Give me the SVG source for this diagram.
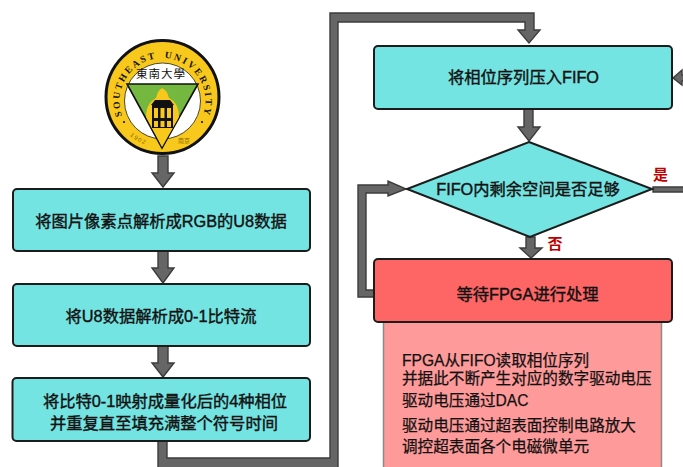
<svg xmlns="http://www.w3.org/2000/svg" width="683" height="467" viewBox="0 0 683 467">
<style>
.box{fill:#74e4e2;stroke:#1c1c1c;stroke-width:2}
.red{fill:#fe6666;stroke:#1c1c1c;stroke-width:2}
.pink{fill:#ff9a9a;stroke:#8a8a8a;stroke-width:1.5}
.arr{fill:#666;stroke:#3c3c3c;stroke-width:1.4;stroke-linejoin:miter}
text{font-family:"Liberation Sans","Noto Sans CJK SC",sans-serif;fill:#111}
.t{font-size:16.3px;text-anchor:middle;stroke:#111;stroke-width:.4}
.p{font-size:15.6px;stroke:#111;stroke-width:.25}
.y{font-size:15px;font-weight:bold;fill:#c00000;text-anchor:middle}
</style>
<rect width="683" height="467" fill="#fff"/>
<g id="connectors">
<polygon class="arr" points="158,156 168,156 168,173 174,173 163,187 152,173 158,173"/>
<polygon class="arr" points="158,251 168,251 168,268 174,268 163,283 152,268 158,268"/>
<polygon class="arr" points="158,346 168,346 168,363 174,363 163,377 152,363 158,363"/>
<polygon class="arr" points="158,441 158,469 338,469 338,22 525,22 525,30 518,30 529,43 540,30 534,30 534,13 330,13 330,458 167,458 167,441"/>
<polygon class="arr" points="524,109 533,109 533,127 540,127 529,141 518,127 524,127"/>
<polygon class="arr" points="526,237 535,237 535,248 542,248 531,258 520,248 526,248"/>
<polygon class="arr" points="374,297 358,297 358,185 388,185 388,181 406,189 388,196 388,193 366,193 366,290 374,290"/>
<polygon class="arr" points="685,75 682,75 682,70 673,78 682,85 682,81 685,81"/>
<polygon class="arr" points="653,187 685,187 685,192 653,192"/>
</g>
<g id="logo">
<circle cx="162.5" cy="97" r="56.5" fill="#f8c91c" stroke="#111" stroke-width="3"/>
<circle cx="162.5" cy="101" r="38" fill="#fff" stroke="#222" stroke-width=".8"/>
<polygon points="127,84 198,84 162,148" fill="#74b83f" stroke="#111" stroke-width="1.6"/>
<path d="M146,117C146,105 152,100 156,98Q158,90 162,88Q167,90 169,98C173,100 179,105 179,117L162,147Z" fill="#f8c91c"/>
<polygon points="151,105 155,100 170,100 174,105" fill="#111"/>
<rect x="152" y="105" width="21" height="23" fill="#111"/>
<g fill="#f8c91c"><rect x="154" y="108" width="4" height="10"/><rect x="160.500" y="108" width="4" height="10"/><rect x="167" y="108" width="4" height="10"/><rect x="154" y="121" width="4" height="6"/><rect x="160.500" y="121" width="4" height="6"/><rect x="167" y="121" width="4" height="6"/></g>
<path id="ring" d="M162.500,144A43,43 0 1 1 162.510,144" fill="none"/>
<text style="font-family:'Liberation Serif',serif;font-size:9.500px;font-weight:bold;letter-spacing:2.100px;word-spacing:3px;text-anchor:middle"><textPath href="#ring" startOffset="50%">SOUTHEAST UNIVERSITY</textPath></text>
<text x="161" y="78" style="font-family:'Noto Sans CJK TC',sans-serif;font-size:11.500px;text-anchor:middle;letter-spacing:1px">東南大學</text>
<circle cx="124" cy="122" r="1.100" fill="#111"/><circle cx="202" cy="122" r="1.100" fill="#111"/>
<path id="ringb" d="M120,124A50,50 0 0 0 205,124" fill="none"/>
<text style="font-size:6px;fill:#8a6a00;letter-spacing:1.300px"><textPath href="#ringb" startOffset="15%">1902</textPath></text>
<text x="184" y="143" style="font-family:'Noto Sans CJK SC',sans-serif;font-size:6px;fill:#8a6a00;text-anchor:middle">南京</text>
</g>
<g id="node-parse-rgb"><rect class="box" x="13" y="189" width="297" height="62" rx="4"/><text class="t" x="161" y="227">将图片像素点解析成RGB的U8数据</text></g>
<g id="node-parse-bits"><rect class="box" x="13" y="284" width="297" height="62" rx="4"/><text class="t" x="161" y="322">将U8数据解析成0-1比特流</text></g>
<g id="node-map-phase"><rect class="box" x="12.500" y="378" width="297.500" height="63" rx="4"/><text class="t" x="165" y="407">将比特0-1映射成量化后的4种相位</text><text class="t" x="164" y="429">并重复直至填充满整个符号时间</text></g>
<g id="node-push-fifo"><rect class="box" x="374" y="46" width="298" height="63" rx="4"/><text class="t" x="523.500" y="83">将相位序列压入FIFO</text></g>
<g id="node-fifo-space"><polygon class="box" points="529,142 652,189 530,237 407,189"/><text class="t" x="528" y="195">FIFO内剩余空间是否足够</text></g>
<g id="node-detail"><rect class="pink" x="383.500" y="322" width="278" height="150"/>
<text class="p" x="402" y="366">FPGA从FIFO读取相位序列</text>
<text class="p" x="402" y="384">并据此不断产生对应的数字驱动电压</text>
<text class="p" x="402" y="406">驱动电压通过DAC</text>
<text class="p" x="402" y="431">驱动电压通过超表面控制电路放大</text>
<text class="p" x="402" y="452">调控超表面各个电磁微单元</text></g>
<g id="node-wait-fpga"><rect class="red" x="374" y="259" width="298" height="63" rx="4"/><text class="t" x="527.500" y="300">等待FPGA进行处理</text></g>
<text class="y" x="660.500" y="180">是</text>
<text class="y" x="555" y="249">否</text>
</svg>
